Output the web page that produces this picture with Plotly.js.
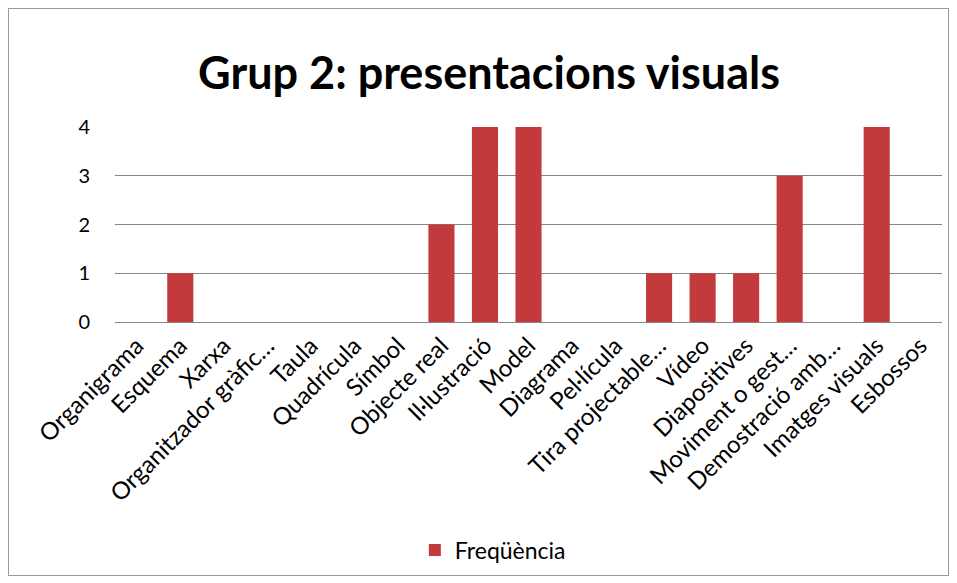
<!DOCTYPE html>
<html><head><meta charset="utf-8">
<script src="https://cdn.plot.ly/plotly-3.0.1.min.js"></script>
<style>html,body{margin:0;padding:0;background:#fff;}#frame{position:absolute;left:8px;top:8px;width:939px;height:566px;border:1px solid #9a9a9a;}#chart{position:absolute;left:0;top:0;width:957px;height:583px;}</style>
</head><body>
<div id="frame"></div>
<div id="chart"></div>
<script>
const categories = ["Organigrama","Esquema","Xarxa","Organitzador gràfic…","Taula","Quadrícula","Símbol","Objecte real","Il·lustració","Model","Diagrama","Pel·lícula","Tira projectable…","Vídeo","Diapositives","Moviment o gest…","Demostració amb…","Imatges visuals","Esbossos"];
const frequencia = [0,1,0,0,0,0,0,2,4,4,0,0,1,1,1,3,0,4,0];
const yTicks = [0,1,2,3,4];
const seriesName = "Freqüència";
const fontFam = "Lato, 'Open Sans', sans-serif";

const trace = {
  type: "bar", x: categories, y: frequencia, name: seriesName,
  marker: {color: "#C23A3C", line: {color: "#8E1F21", width: 0}},
  width: 0.6, showlegend: true
};
const layout = {
  width: 957, height: 583,
  paper_bgcolor: "rgba(0,0,0,0)", plot_bgcolor: "rgba(0,0,0,0)",
  margin: {l: 115, r: 15, t: 127, b: 261},
  font: {family: fontFam, color: "#000", size: 18},
  title: {text: "<b>Grup 2: presentacions visuals</b>", font: {family: fontFam, size: 45, color: "#000"},
          x: 0.511, xref: "container", y: 1 - 73/583, yref: "container", yanchor: "middle"},
  xaxis: {type: "category", tickangle: -45, tickfont: {size: 24, family: fontFam}, showgrid: false,
          showline: false, ticks: "", zeroline: false, fixedrange: true, ticklabelstandoff: 4},
  yaxis: {range: [0, 4], tickvals: yTicks, ticktext: yTicks.map(String), showgrid: true, gridcolor: "#868686", gridwidth: 1,
          zeroline: true, zerolinecolor: "#868686", zerolinewidth: 1, showline: false, ticks: "", ticklen: 0,
          tickfont: {size: 20, family: fontFam}, fixedrange: true, ticklabelstandoff: 24},
  showlegend: true,
  legend: {orientation: "h", x: 0.515, xanchor: "center", xref: "container", y: 1 - 550/583, yanchor: "middle", yref: "container",
           font: {size: 23, family: fontFam}},
  bargap: 0.4
};
Plotly.newPlot("chart", [trace], layout, {displayModeBar: false, staticPlot: true});
</script>
</body></html>
